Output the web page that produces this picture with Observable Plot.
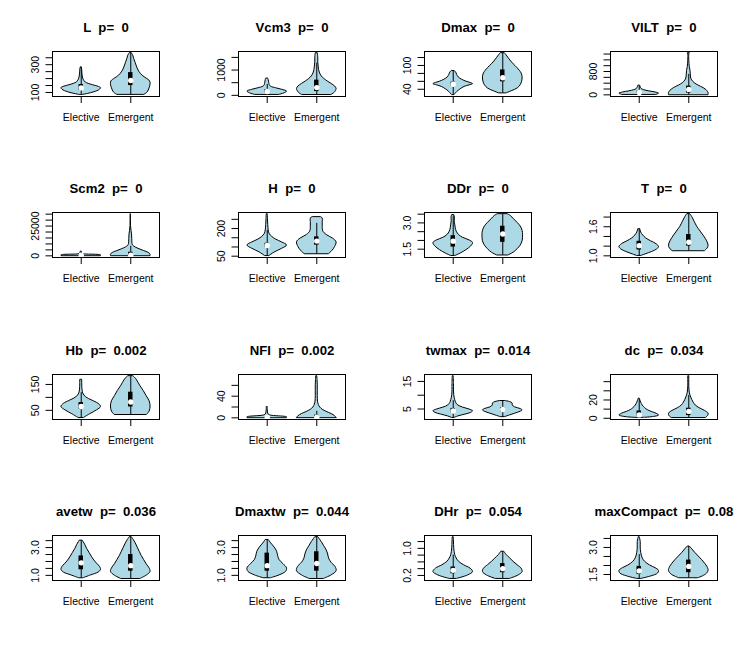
<!DOCTYPE html>
<html><head><meta charset="utf-8">
<script src="https://cdn.jsdelivr.net/npm/d3@7"></script>
<script src="https://cdn.jsdelivr.net/npm/@observablehq/plot@0.6"></script>
<style>
body{margin:0;background:#fff;}
#grid{position:relative;width:744px;height:645px;background:#fff;}
.cell{position:absolute;width:186px;height:161px;}
svg text{white-space:pre;}
</style></head><body><div id="grid"></div>
<script>
const groups = ["Elective", "Emergent"];
const panelNames = ["L","Vcm3","Dmax","VILT","Scm2","H","DDr","T","Hb","NFI","twmax","dc","avetw","Dmaxtw","DHr","maxCompact"];
const pValues = ["0","0","0","0","0","0","0","0","0.002","0.002","0.014","0.034","0.036","0.044","0.054","0.08"];
const yTicks = [
  [100,150,200,250,300,350],[0,500,1000,1500],[40,60,80,100,120],[0,200,400,600,800,1000,1200,1400],
  [0,5000,10000,15000,20000,25000,30000,35000],[50,100,150,200,250],[1.5,2,2.5,3,3.5],[1.0,1.2,1.4,1.6,1.8],
  [50,100,150],[0,20,40,60],[5,10,15],[0,10,20,30,40],
  [1,1.5,2,2.5,3,3.5],[1,1.5,2,2.5,3,3.5],[0.2,0.4,0.6,0.8,1.0,1.2],[1.5,2,2.5,3,3.5]
];
const yTickLabels = [
  ["100","300"],["0","1000"],["40","100"],["0","800"],
  ["0","25000"],["50","200"],["1.5","3.0"],["1.0","1.6"],
  ["50","150"],["0","40"],["5","15"],["0","20"],
  ["1.0","3.0"],["1.0","3.0"],["0.2","1.0"],["1.5","3.0"]
];
const dataMin = [83,20,26,0, 0,52,1.12,1.0, 21,0,1.8,0.5, 0.75,0.75,0.1,1.26];
const dataMax = [383,1667,131,1430, 35000,278,3.5,1.86, 182,77,16.9,46, 3.75,3.75,1.33,3.57];

// violin profiles: [value, half-width]
const electiveViolin = [
  [[83,0.04],[90,0.14],[100,0.25],[110,0.33],[120,0.38],[131,0.4],[142,0.34],[152,0.24],[162,0.15],[172,0.09],[185,0.06],[200,0.04],[230,0.025],[260,0.02],[281,0.01]],
  [[20,0.25],[80,0.35],[150,0.4],[220,0.3],[280,0.18],[340,0.08],[400,0.05],[500,0.04],[600,0.03],[665,0.02]],
  [[26,0.03],[33,0.08],[40,0.15],[46,0.23],[50,0.33],[53,0.4],[56,0.35],[59,0.27],[64,0.18],[70,0.11],[76,0.08],[82,0.06],[86,0.03]],
  [[0,0.35],[40,0.4],[80,0.33],[120,0.2],[160,0.1],[200,0.05],[260,0.03],[315,0.02]],
  [[0,0.4],[400,0.4],[800,0.35],[1100,0.1],[1500,0.03],[2500,0.015],[3600,0.01]],
  [[52,0.05],[70,0.15],[90,0.3],[108,0.4],[125,0.3],[140,0.18],[155,0.1],[170,0.05],[190,0.03],[220,0.02],[250,0.015],[278,0.01]],
  [[1.12,0.05],[1.25,0.15],[1.45,0.27],[1.65,0.36],[1.85,0.4],[2.0,0.33],[2.15,0.2],[2.3,0.12],[2.5,0.07],[2.7,0.05],[2.9,0.04],[3.1,0.03],[3.3,0.035],[3.45,0.02]],
  [[1.0,0.05],[1.03,0.13],[1.08,0.26],[1.13,0.36],[1.18,0.4],[1.24,0.35],[1.3,0.24],[1.36,0.14],[1.42,0.08],[1.48,0.04],[1.55,0.02]],
  [[21,0.06],[35,0.18],[50,0.32],[63,0.4],[75,0.35],[88,0.22],[100,0.1],[115,0.04],[130,0.025],[150,0.02],[168,0.02]],
  [[0,0.4],[1,0.4],[2,0.35],[3,0.2],[4,0.08],[6,0.03],[10,0.015],[15,0.01],[20,0.01]],
  [[1.8,0.03],[2.3,0.1],[3,0.25],[3.6,0.36],[4.2,0.4],[4.8,0.33],[5.5,0.2],[6.3,0.1],[7.2,0.06],[8.2,0.04],[10,0.02],[12,0.015],[14,0.015],[16.9,0.01]],
  [[0.5,0.1],[1.5,0.3],[3,0.4],[5,0.35],[7,0.25],[9,0.17],[11,0.12],[14,0.07],[17,0.04],[20,0.02],[21.5,0.01]],
  [[0.8,0.05],[1.0,0.2],[1.2,0.35],[1.4,0.4],[1.6,0.38],[1.8,0.33],[2.0,0.28],[2.3,0.22],[2.6,0.17],[2.9,0.12],[3.2,0.08],[3.5,0.03]],
  [[0.8,0.08],[1.0,0.25],[1.25,0.38],[1.5,0.4],[1.8,0.33],[2.1,0.25],[2.4,0.22],[2.7,0.2],[3.0,0.15],[3.3,0.08],[3.55,0.03]],
  [[0.1,0.08],[0.2,0.3],[0.3,0.4],[0.4,0.35],[0.5,0.22],[0.6,0.12],[0.7,0.07],[0.8,0.04],[1.0,0.02],[1.2,0.015],[1.33,0.01]],
  [[1.26,0.05],[1.4,0.25],[1.55,0.38],[1.7,0.4],[1.85,0.33],[2.0,0.22],[2.2,0.12],[2.4,0.07],[2.7,0.04],[3.0,0.03],[3.3,0.03],[3.57,0.01]]
];
const emergentViolin = [
  [[84,0.28],[100,0.34],[130,0.38],[160,0.4],[180,0.39],[200,0.32],[220,0.24],[250,0.17],[280,0.13],[310,0.1],[340,0.07],[365,0.05],[383,0.02]],
  [[20,0.3],[100,0.36],[250,0.4],[350,0.37],[450,0.3],[550,0.22],[650,0.15],[750,0.1],[900,0.06],[1100,0.04],[1300,0.03],[1500,0.03],[1667,0.02]],
  [[30,0.08],[35,0.18],[42,0.3],[50,0.36],[59,0.39],[70,0.4],[80,0.38],[93,0.3],[103,0.22],[110,0.17],[118,0.12],[125,0.08],[131,0.04]],
  [[0,0.4],[60,0.4],[140,0.37],[230,0.3],[316,0.2],[400,0.12],[490,0.07],[560,0.05],[700,0.04],[820,0.035],[950,0.02],[1050,0.015],[1200,0.01],[1380,0.01],[1430,0.02]],
  [[0,0.4],[1000,0.4],[2500,0.36],[4000,0.27],[5500,0.18],[7000,0.1],[8500,0.05],[10000,0.035],[14000,0.03],[18000,0.025],[21000,0.015],[25000,0.005],[30000,0.003],[35000,0.003]],
  [[62,0.25],[80,0.32],[100,0.37],[125,0.4],[145,0.33],[165,0.2],[185,0.13],[210,0.12],[235,0.12],[255,0.12],[262,0.08]],
  [[1.15,0.12],[1.3,0.22],[1.5,0.3],[1.7,0.36],[1.95,0.4],[2.3,0.41],[2.55,0.4],[2.8,0.36],[3.0,0.3],[3.2,0.23],[3.4,0.16],[3.5,0.1]],
  [[1.1,0.33],[1.15,0.38],[1.21,0.4],[1.3,0.37],[1.4,0.31],[1.5,0.24],[1.6,0.17],[1.7,0.12],[1.8,0.07],[1.86,0.03]],
  [[33,0.33],[45,0.38],[65,0.4],[85,0.38],[105,0.32],[125,0.26],[145,0.19],[165,0.13],[175,0.09],[182,0.05]],
  [[0,0.4],[3,0.37],[7,0.3],[11,0.2],[15,0.12],[19,0.07],[24,0.04],[30,0.025],[40,0.02],[50,0.02],[60,0.02],[70,0.015],[77,0.01]],
  [[2.1,0.05],[2.7,0.15],[3.3,0.25],[4,0.36],[4.5,0.4],[5,0.36],[5.6,0.25],[6.3,0.2],[7,0.2],[7.5,0.15],[7.9,0.05]],
  [[0.5,0.35],[2.5,0.39],[5,0.4],[8,0.33],[11,0.22],[14,0.14],[17,0.1],[20,0.07],[24,0.04],[28,0.02],[35,0.01],[42,0.01],[46,0.01]],
  [[0.75,0.2],[1.0,0.33],[1.25,0.4],[1.5,0.38],[1.8,0.32],[2.1,0.27],[2.4,0.22],[2.7,0.18],[3.0,0.14],[3.3,0.1],[3.55,0.06],[3.75,0.02]],
  [[0.75,0.15],[1.0,0.3],[1.3,0.4],[1.6,0.38],[1.9,0.3],[2.2,0.25],[2.5,0.23],[2.8,0.2],[3.1,0.15],[3.4,0.1],[3.75,0.03]],
  [[0.1,0.15],[0.2,0.32],[0.3,0.4],[0.4,0.38],[0.5,0.3],[0.6,0.22],[0.7,0.15],[0.8,0.08],[0.9,0.03]],
  [[1.3,0.2],[1.5,0.35],[1.7,0.4],[1.9,0.38],[2.1,0.33],[2.3,0.27],[2.5,0.2],[2.7,0.13],[2.9,0.07],[3.05,0.02]]
];
// box stats: [lower whisker, q1, median, q3, upper whisker]
const electiveBox = [
  [86,114,133,157,281],[20,90,150,230,430],[26,48,52.8,58,86],[0,40,82,130,300],
  [0,200,500,900,3000],[52,98,108,120,190],[1.12,1.62,1.96,2.27,3.4],[1.0,1.12,1.21,1.3,1.55],
  [21,55,65,80,118],[0,0,0.5,1,2],[1.8,3.6,4.3,5.2,8],[0.5,2,3.7,8,21],
  [0.8,1.4,1.9,2.4,3.5],[0.8,1.3,1.7,2.6,3.55],[0.1,0.25,0.35,0.45,0.8],[1.26,1.5,1.7,1.95,2.6]
];
const emergentBox = [
  [84,150,186,243,383],[20,150,305,600,1270],[30,58.7,69,88.7,131],[0,60,187,300,700],
  [0,200,560,3000,8000],[62,110,132,155,228],[1.15,1.89,2.37,2.81,3.5],[1.1,1.2,1.28,1.44,1.86],
  [33,63,82,120,182],[0,0.3,1.2,5,12],[2.1,4,4.8,5.5,7.9],[0.5,3,7.5,11,25],
  [0.75,1.3,1.7,2.5,3.75],[0.75,1.3,1.85,2.7,3.75],[0.1,0.28,0.4,0.55,0.9],[1.3,1.6,1.95,2.3,3.05]
];

const font = "'Liberation Sans', Arial, Helvetica, sans-serif";
const grid = document.getElementById("grid");

panelNames.forEach((name, i) => {
  const row = Math.floor(i / 4), col = i % 4;
  const lo = dataMin[i], hi = dataMax[i], r = hi - lo;
  const violinRows = [
    ...electiveViolin[i].map(([v, w]) => ({g: 1, v, w})),
    ...emergentViolin[i].map(([v, w]) => ({g: 2, v, w}))
  ];
  const boxes = [electiveBox[i], emergentBox[i]].map((b, k) => ({g: k + 1, lo: b[0], q1: b[1], med: b[2], q3: b[3], hi: b[4]}));
  const chart = Plot.plot({
    width: 186, height: 161,
    marginLeft: 52, marginRight: 27, marginTop: 51, marginBottom: 65,
    x: {domain: [0.42, 2.58], axis: null},
    y: {domain: [lo - 0.04 * r, hi + 0.04 * r], axis: null},
    style: {fontFamily: font, fontSize: "10.5px", background: "transparent", overflow: "visible"},
    marks: [
      Plot.areaX(violinRows.filter(d => d.g === 1), {y: "v", x1: d => d.g - d.w, x2: d => d.g + d.w, fill: "#ADD8E6", stroke: "black", strokeWidth: 1, curve: "catmull-rom"}),
      Plot.areaX(violinRows.filter(d => d.g === 2), {y: "v", x1: d => d.g - d.w, x2: d => d.g + d.w, fill: "#ADD8E6", stroke: "black", strokeWidth: 1, curve: "catmull-rom"}),
      Plot.ruleX(boxes, {x: "g", y1: "lo", y2: "hi", stroke: "black", strokeWidth: 1}),
      Plot.rect(boxes, {x1: d => d.g - 0.045, x2: d => d.g + 0.045, y1: "q1", y2: "q3", fill: "black"}),
      Plot.dot(boxes, {x: "g", y: "med", r: 2.7, fill: "white", stroke: null}),
      Plot.frame({stroke: "black", strokeWidth: 1}),
      Plot.axisY({ticks: yTicks[i], tickSize: 6.5, tickFormat: () => "", label: null, stroke: "black", strokeWidth: 1}),
      Plot.text(yTickLabels[i], {y: d => +d, text: d => d, frameAnchor: "left", dx: -17, rotate: -90, textAnchor: "middle", lineAnchor: "middle", fill: "black", fontSize: 10.5}),
      Plot.axisX({ticks: [1, 2], tickSize: 7, tickFormat: () => "", label: null, stroke: "black", strokeWidth: 1}),
      Plot.text(groups, {x: (d, k) => k + 1, frameAnchor: "bottom", dy: 21, lineAnchor: "middle", fill: "black", fontSize: 10.5}),
      Plot.text([name + "  p=  " + pValues[i]], {frameAnchor: "top", dy: -23.5, lineAnchor: "middle", fontWeight: "bold", fontSize: 13.2, fill: "black"})
    ]
  });
  const cell = document.createElement("div");
  cell.className = "cell";
  cell.style.left = (col * 186) + "px";
  cell.style.top = Math.round(row * 161.25) + "px";
  cell.appendChild(chart);
  grid.appendChild(cell);
});
</script>
</body></html>
